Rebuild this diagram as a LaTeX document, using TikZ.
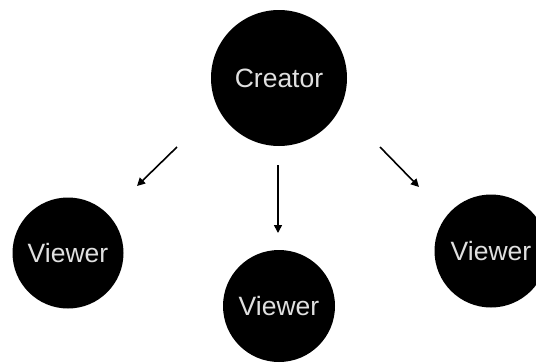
\documentclass[tikz,border=0pt]{standalone}
\usepackage{fontspec}
\setmainfont{Liberation Sans}
\usetikzlibrary{arrows.meta}
\definecolor{labelgray}{HTML}{E0E0E0}
\newcommand{\lbl}[1]{\raisebox{-2.5pt}{#1}}
\tikzset{
  person/.style={circle, fill=black, text=labelgray, inner sep=0pt,
                 font=\fontsize{26.5}{26.5}\selectfont},
  flow/.style={line width=1.6pt, -{Triangle[length=8pt,width=8pt]}}
}
\begin{document}
\begin{tikzpicture}[x=1pt,y=-1pt]
  \useasboundingbox (0,0) rectangle (536,362);
  \clip (0,0) rectangle (536,362);
  % people
  \node[person, minimum size=136pt] (creator) at (279,78) {\lbl{Creator}};
  \node[person, minimum size=111pt] (vleft)   at (68,253) {\lbl{Viewer}};
  \node[person, minimum size=112pt] (vmid)    at (279,306) {\lbl{Viewer}};
  \node[person, minimum size=113pt] (vright)  at (491,251) {\lbl{Viewer}};
  % arrow ends
  \coordinate (l1) at (177,147);
  \coordinate (l2) at (137,186);
  \coordinate (m1) at (278,165);
  \coordinate (m2) at (278,233);
  \coordinate (r1) at (380,147);
  \coordinate (r2) at (419,187);
  \draw[flow] (l1) -- (l2);
  \draw[flow] (m1) -- (m2);
  \draw[flow] (r1) -- (r2);
\end{tikzpicture}
\end{document}
